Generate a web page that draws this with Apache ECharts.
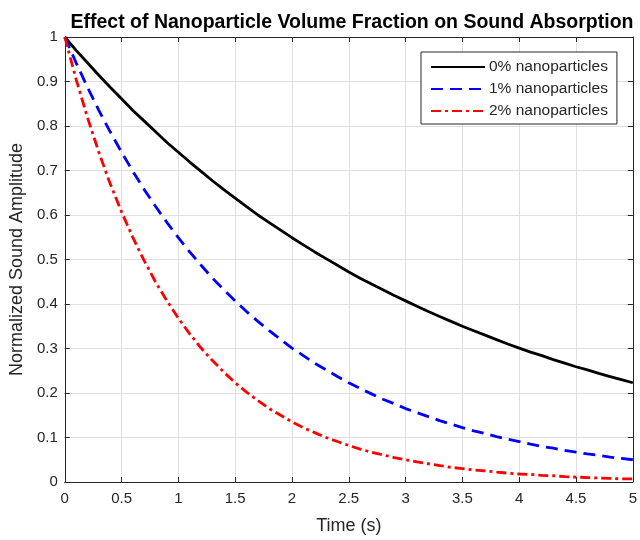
<!DOCTYPE html>
<html><head><meta charset="utf-8">
<script src="https://cdn.jsdelivr.net/npm/echarts@6/dist/echarts.min.js"></script>
<style>html,body{margin:0;padding:0;background:#fff}#c{width:640px;height:540px}</style>
</head><body><div id="c"></div>
<script>
const time = [0,0.1,0.2,0.3,0.4,0.5,0.6,0.7,0.8,0.9,1,1.1,1.2,1.3,1.4,1.5,1.6,1.7,1.8,1.9,2,2.1,2.2,2.3,2.4,2.5,2.6,2.7,2.8,2.9,3,3.1,3.2,3.3,3.4,3.5,3.6,3.7,3.8,3.9,4,4.1,4.2,4.3,4.4,4.5,4.6,4.7,4.8,4.9,5];
const np0 = [1,0.970,0.942,0.914,0.887,0.861,0.835,0.811,0.787,0.763,0.741,0.719,0.698,0.677,0.657,0.638,0.619,0.600,0.583,0.566,0.549,0.533,0.517,0.502,0.487,0.472,0.458,0.445,0.432,0.419,0.407,0.395,0.383,0.372,0.361,0.350,0.340,0.330,0.320,0.310,0.301,0.292,0.284,0.275,0.267,0.259,0.252,0.244,0.237,0.230,0.223];
const np1 = [1,0.942,0.887,0.835,0.787,0.741,0.698,0.657,0.619,0.583,0.549,0.517,0.487,0.458,0.432,0.407,0.383,0.361,0.340,0.320,0.301,0.284,0.267,0.252,0.237,0.223,0.210,0.198,0.186,0.176,0.165,0.156,0.147,0.138,0.130,0.122,0.115,0.109,0.102,0.096,0.091,0.085,0.080,0.076,0.071,0.067,0.063,0.060,0.056,0.053,0.050];
const np2 = [1,0.905,0.819,0.741,0.670,0.607,0.549,0.497,0.449,0.407,0.368,0.333,0.301,0.273,0.247,0.223,0.202,0.183,0.165,0.150,0.135,0.122,0.111,0.100,0.091,0.082,0.074,0.067,0.061,0.055,0.050,0.045,0.041,0.037,0.033,0.030,0.027,0.025,0.022,0.020,0.018,0.017,0.015,0.014,0.012,0.011,0.010,0.009,0.008,0.007,0.007];
const seriesNames = ['0% nanoparticles','1% nanoparticles','2% nanoparticles'];
const xTicks = ['0','0.5','1','1.5','2','2.5','3','3.5','4','4.5','5'];

const pairs = arr => time.map((t,i)=>[t,arr[i]]);
const font = 'Liberation Sans, Arial, Helvetica, sans-serif';
const axisCol = '#262626';
const chart = echarts.init(document.getElementById('c'));
const baseAxis = {
  axisLine:{show:true,onZero:false,lineStyle:{color:axisCol,width:1}},
  axisTick:{show:true,inside:true,length:5,lineStyle:{color:axisCol}},
};
chart.setOption({
  animation:false,
  title:{text:'Effect of Nanoparticle Volume Fraction on Sound Absorption',left:347,top:8,textAlign:'center',
    textStyle:{fontFamily:font,fontSize:19.5,fontWeight:'bold',color:'#000'}},
  grid:{left:64,right:6,top:37,bottom:55,show:false},
  legend:{orient:'vertical',left:421,top:52,padding:[7,9,5,9],itemGap:6,itemWidth:54,itemHeight:16,
    borderColor:axisCol,borderWidth:1,backgroundColor:'#fff',
    itemStyle:{opacity:0,borderWidth:0},
    textStyle:{fontFamily:font,fontSize:15.5,color:axisCol,padding:[0,0,0,-1]},
    data:seriesNames},
  xAxis:[
    Object.assign({type:'value',min:0,max:5,interval:0.5,position:'bottom',
      name:'Time (s)',nameLocation:'middle',nameGap:35,
      nameTextStyle:{fontFamily:font,fontSize:18,color:axisCol},
      axisLabel:{fontFamily:font,fontSize:15,color:axisCol,margin:9,
        formatter:v=>{const i=Math.round(v/0.5);return xTicks[i]!==undefined?xTicks[i]:''}},
      splitLine:{show:true,lineStyle:{color:'#dfdfdf',width:1}}},baseAxis),
    Object.assign({type:'value',min:0,max:5,interval:0.5,position:'top',
      axisLabel:{show:false},splitLine:{show:false}},baseAxis)
  ],
  yAxis:[
    Object.assign({type:'value',min:0,max:1,interval:0.1,position:'left',
      name:'Normalized Sound Amplitude',nameLocation:'middle',nameGap:35,
      nameTextStyle:{fontFamily:font,fontSize:18,color:axisCol},
      axisLabel:{fontFamily:font,fontSize:15,color:axisCol,margin:7,
        formatter:v=>(Math.round(v*10)/10).toString()},
      splitLine:{show:true,lineStyle:{color:'#dfdfdf',width:1}}},baseAxis),
    Object.assign({type:'value',min:0,max:1,interval:0.1,position:'right',
      axisLabel:{show:false},splitLine:{show:false}},baseAxis)
  ],
  series:[
    {name:seriesNames[0],type:'line',data:pairs(np0),showSymbol:false,symbol:'none',
      lineStyle:{color:'#000',width:2.8,type:'solid'},itemStyle:{color:'#000'},z:3},
    {name:seriesNames[1],type:'line',data:pairs(np1),showSymbol:false,symbol:'none',
      lineStyle:{color:'#0000ff',width:2.8,type:[12,7]},itemStyle:{color:'#0000ff'},z:3},
    {name:seriesNames[2],type:'line',data:pairs(np2),showSymbol:false,symbol:'none',
      lineStyle:{color:'#ff0000',width:2.8,type:[10,4,3,4]},itemStyle:{color:'#ff0000'},z:3}
  ]
});
</script></body></html>
